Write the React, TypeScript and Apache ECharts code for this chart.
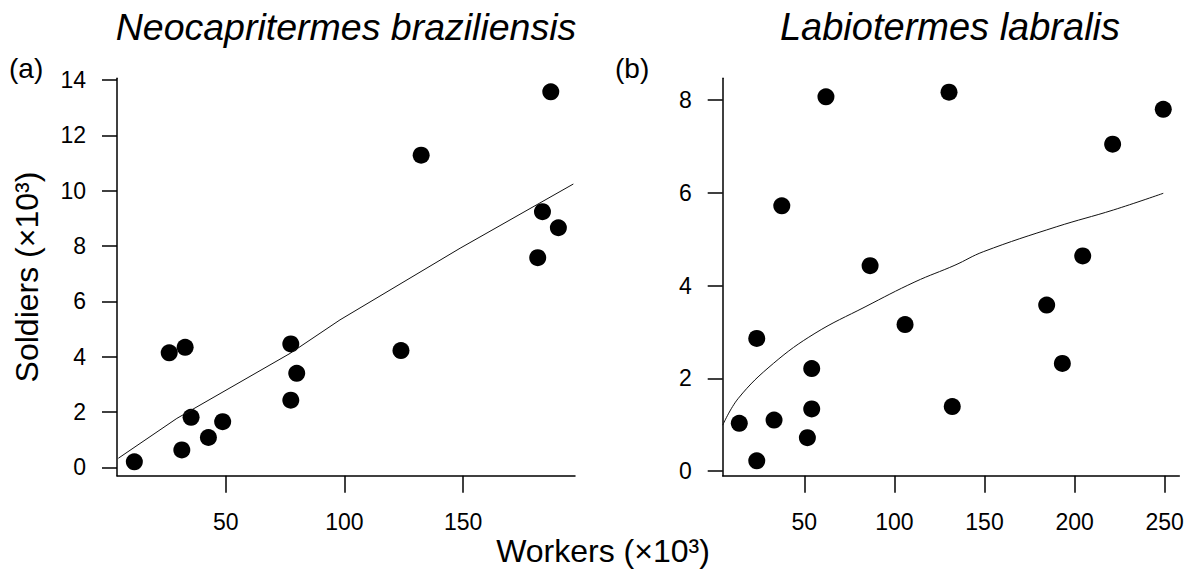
import { useEffect, useRef } from "react";
import * as echarts from "echarts";

const FONT = '"Liberation Sans", Arial, Helvetica, sans-serif';

// Panel (a): Neocapritermes braziliensis
const aWorkers = [11.5, 26.2, 32.9, 31.5, 35.4, 42.7, 48.7, 77.4, 77.4, 79.9, 123.8, 132.3, 181.4, 183.4, 190.1, 186.9];
const aSoldiers = [0.2, 4.14, 4.34, 0.63, 1.81, 1.08, 1.65, 4.46, 2.43, 3.4, 4.22, 11.28, 7.58, 9.24, 8.66, 13.57];
const aFitX = [4.76, 29.4, 77.1, 98.1, 148.7, 196.4];
const aFitY = [0.33, 1.77, 4.12, 5.33, 7.92, 10.24];
const aXTicks = [50, 100, 150];
const aYTicks = [0, 2, 4, 6, 8, 10, 12, 14];

// Panel (b): Labiotermes labralis
const bWorkers = [13.9, 23.6, 23.6, 33.2, 37.5, 51.7, 54.1, 54.1, 62.0, 86.5, 105.9, 130.3, 132.1, 184.5, 193.2, 204.5, 221.1, 249.2];
const bSoldiers = [1.03, 0.22, 2.86, 1.1, 5.72, 0.72, 2.21, 1.34, 8.07, 4.43, 3.16, 8.17, 1.39, 3.58, 2.32, 4.64, 7.05, 7.8];
const bFitX = [4.7, 13.4, 32.8, 55.9, 83.7, 111.4, 133.6, 149.3, 190.1, 221.5, 249.2];
const bFitY = [0.99, 1.57, 2.32, 2.97, 3.54, 4.08, 4.44, 4.73, 5.27, 5.63, 5.99];
const bXTicks = [50, 100, 150, 200, 250];
const bYTicks = [0, 2, 4, 6, 8];

const titles = ["Neocapritermes braziliensis", "Labiotermes labralis"];
const panelTags = ["(a)", "(b)"];
const xName = "Workers (×10³)";
const yName = "Soldiers (×10³)";

const zip = (xs: number[], ys: number[]) => xs.map((x, i) => [x, ys[i]]);

function xAxis(gridIndex: number, min: number, max: number, ticks: number[]) {
  return {
    type: "value",
    gridIndex,
    min,
    max,
    axisLine: { show: true, onZero: false, lineStyle: { color: "#000", width: 1.5 } },
    axisTick: { show: true, inside: false, length: 17, customValues: ticks, lineStyle: { color: "#000", width: 1.5 } },
    axisLabel: { customValues: ticks, margin: 35, fontSize: 23, color: "#000", fontFamily: FONT },
    splitLine: { show: false },
  };
}

function yAxis(gridIndex: number, min: number, max: number, ticks: number[]) {
  return {
    type: "value",
    gridIndex,
    min,
    max,
    axisLine: { show: true, onZero: false, lineStyle: { color: "#000", width: 1.5 } },
    axisTick: { show: true, inside: false, length: 15, customValues: ticks, lineStyle: { color: "#000", width: 1.5 } },
    axisLabel: { customValues: ticks, margin: 31, fontSize: 23, color: "#000", fontFamily: FONT },
    splitLine: { show: false },
  };
}

function txt(x: number, y: number, text: string, size: number, opts: any = {}) {
  return {
    type: "text",
    x,
    y,
    rotation: opts.rotation || 0,
    style: {
      text,
      fontSize: size,
      fontFamily: FONT,
      fontStyle: opts.italic ? "italic" : "normal",
      fill: "#000",
      align: opts.align || "center",
      verticalAlign: "middle",
    },
  };
}

export default function App() {
  const ref = useRef<HTMLDivElement>(null);
  useEffect(() => {
    const chart = echarts.init(ref.current!, null, { renderer: "svg" });
    const option: any = {
      animation: false,
      backgroundColor: "#fff",
      grid: [
        { left: 117, top: 78.3, width: 458, height: 397.4 },
        { left: 722.7, top: 78.3, width: 456.6, height: 397.4 },
      ],
      xAxis: [xAxis(0, 4.2, 197.1, aXTicks), xAxis(1, 4.7, 258.1, bXTicks)],
      yAxis: [yAxis(0, -0.3, 14.06, aYTicks), yAxis(1, -0.1, 8.47, bYTicks)],
      series: [
        {
          type: "scatter",
          xAxisIndex: 0,
          yAxisIndex: 0,
          symbol: "circle",
          symbolSize: 17,
          itemStyle: { color: "#000", opacity: 1 },
          data: zip(aWorkers, aSoldiers),
        },
        {
          type: "line",
          xAxisIndex: 0,
          yAxisIndex: 0,
          showSymbol: false,
          lineStyle: { color: "#111", width: 1 },
          data: zip(aFitX, aFitY),
        },
        {
          type: "scatter",
          xAxisIndex: 1,
          yAxisIndex: 1,
          symbol: "circle",
          symbolSize: 17,
          itemStyle: { color: "#000", opacity: 1 },
          data: zip(bWorkers, bSoldiers),
        },
        {
          type: "line",
          xAxisIndex: 1,
          yAxisIndex: 1,
          showSymbol: false,
          smooth: 0.4,
          lineStyle: { color: "#111", width: 1 },
          data: zip(bFitX, bFitY),
        },
      ],
      graphic: [
        txt(346, 27, titles[0], 37.5, { italic: true }),
        txt(950, 27, titles[1], 38, { italic: true }),
        txt(9, 68, panelTags[0], 28, { align: "left" }),
        txt(615, 68, panelTags[1], 28, { align: "left" }),
        txt(603, 551, xName, 32),
        txt(27, 277, yName, 32, { rotation: Math.PI / 2 }),
      ],
    };
    chart.setOption(option);
    return () => chart.dispose();
  }, []);
  return <div ref={ref} style={{ position: "fixed", left: 0, top: 0, width: 1190, height: 571 }} />;
}
